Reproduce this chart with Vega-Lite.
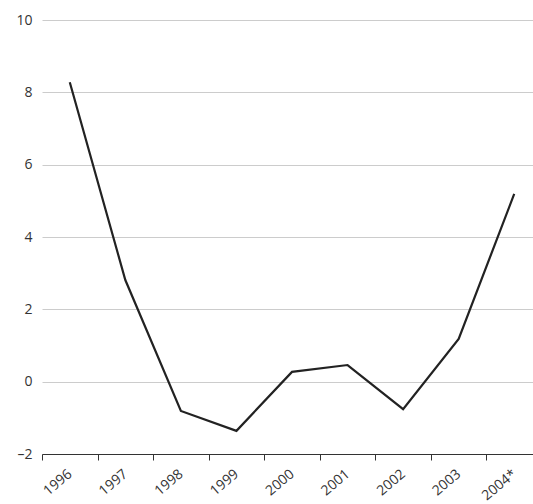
{
  "$schema": "https://vega.github.io/schema/vega-lite/v6.json",
  "width": 500,
  "height": 434,
  "autosize": "none",
  "padding": {"left": 42, "top": 20, "right": 0, "bottom": 50},
  "data": {"values": [
    {"year": "1996", "value": 8.28},
    {"year": "1997", "value": 2.81},
    {"year": "1998", "value": -0.81},
    {"year": "1999", "value": -1.36},
    {"year": "2000", "value": 0.27},
    {"year": "2001", "value": 0.46},
    {"year": "2002", "value": -0.76},
    {"year": "2003", "value": 1.18},
    {"year": "2004*", "value": 5.19}
  ]},
  "mark": {"type": "line", "color": "#222222", "strokeWidth": 2.2},
  "encoding": {
    "x": {
      "field": "year", "type": "ordinal", "title": null,
      "scale": {"type": "band", "paddingInner": 0, "paddingOuter": 0},
      "axis": {"tickBand": "extent", "labelAngle": -40, "labelAlign": "right", "labelBaseline": "middle",
               "labelFontSize": 14, "labelColor": "#333", "domainColor": "#333", "tickColor": "#333",
               "tickSize": 6, "labelPadding": 12, "labelFont": "Open Sans"}
    },
    "y": {
      "field": "value", "type": "quantitative", "title": null,
      "scale": {"domain": [-2, 10], "nice": false},
      "axis": {"values": [-2, 0, 2, 4, 6, 8, 10], "domain": false, "ticks": false, "gridColor": "#cccccc",
               "labelFontSize": 14, "labelColor": "#333", "labelPadding": 10, "labelFont": "Open Sans",
               "labelExpr": "replace(datum.label, '−', '–')"}
    }
  },
  "config": {"view": {"stroke": null}}
}
